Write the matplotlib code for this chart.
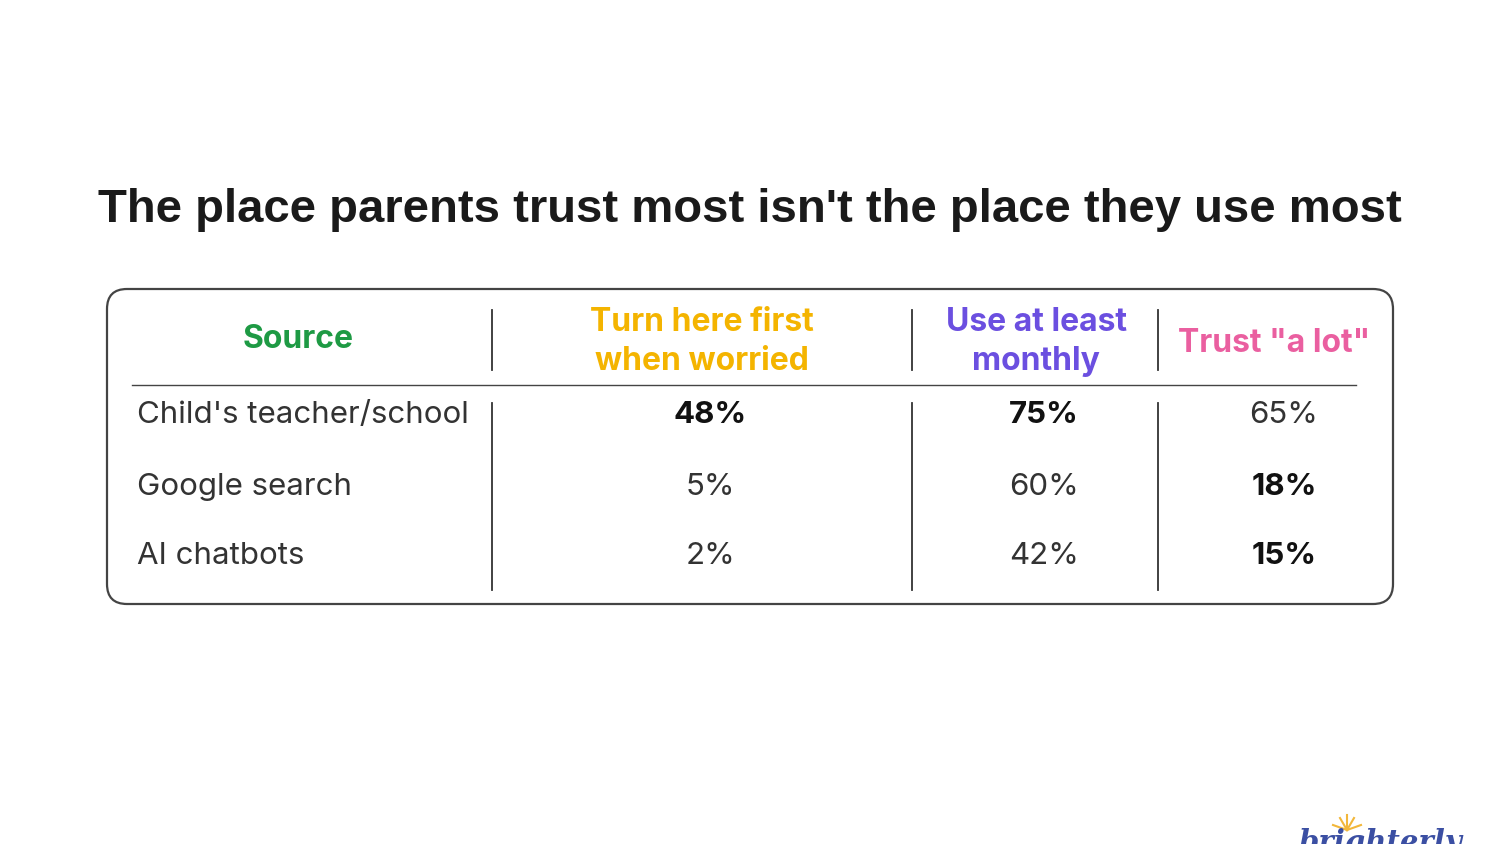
import matplotlib
matplotlib.use("Agg")
import matplotlib.pyplot as plt
from matplotlib.patches import FancyBboxPatch

title = "The place parents trust most isn't the place they use most"
headers = ["Source", "Turn here first\nwhen worried", "Use at least\nmonthly", 'Trust "a lot"']
header_colors = ["#1e9a44", "#f4b400", "#6b4fe0", "#ea5fa0"]
sources = ["Child's teacher/school", "Google search", "AI chatbots"]
turn_first = [48, 5, 2]
monthly = [75, 60, 42]
trust = [65, 18, 15]
bold_cells = [[True, True, False], [False, False, True], [False, False, True]]

fig = plt.figure(figsize=(15, 8.44), dpi=100)
ax = fig.add_axes([0, 0, 1, 1])
ax.set_xlim(0, 1500)
ax.set_ylim(844, 0)
ax.axis("off")

ax.text(750, 210, title, ha="center", va="center", fontsize=34,
        fontweight="bold", family="Liberation Sans", color="#1a1a1a")

box = FancyBboxPatch((107, 289), 1286, 315, boxstyle="round,pad=0,rounding_size=20",
                     fc="white", ec="#444444", lw=1.6)
ax.add_patch(box)
ax.plot([132, 1356], [385, 385], color="#444444", lw=1)

for x in [492, 912, 1158]:
    ax.plot([x, x], [310, 370], color="#333333", lw=1.3)
    ax.plot([x, x], [403, 590], color="#333333", lw=1.3)

hx = [298, 702, 1036, 1274]
hy = [340, 342, 342, 344]
for h, c, x, y in zip(headers, header_colors, hx, hy):
    ax.text(x, y, h, ha="center", va="center", fontsize=23, fontweight="bold",
            family="Inter", color=c, linespacing=1.3)

rows_y = [415, 487, 556]
cols_x = [710, 1044, 1284]
for i, (s, y) in enumerate(zip(sources, rows_y)):
    ax.text(137, y, s, ha="left", va="center", fontsize=22.5, family="Inter", color="#333333")
    for j, (vals, x) in enumerate(zip([turn_first, monthly, trust], cols_x)):
        b = bold_cells[i][j]
        ax.text(x, y, f"{vals[i]}%", ha="center", va="center", fontsize=22.5,
                family="Inter", fontweight="bold" if b else "normal",
                color="#111111" if b else "#333333")

# logo (cut off at bottom, as in the reference)
ax.text(1298, 828, "brighterly", ha="left", va="top", fontsize=21, style="italic",
        fontweight="bold", family="DejaVu Serif", color="#3b4fa3")
for dx, dy in [(-14, -5), (-7, -12), (0, -15), (7, -12), (14, -5)]:
    ax.plot([1347, 1347 + dx], [830, 830 + dy], color="#f2b73a", lw=1.5)

fig.savefig("out.png", dpi=100)
